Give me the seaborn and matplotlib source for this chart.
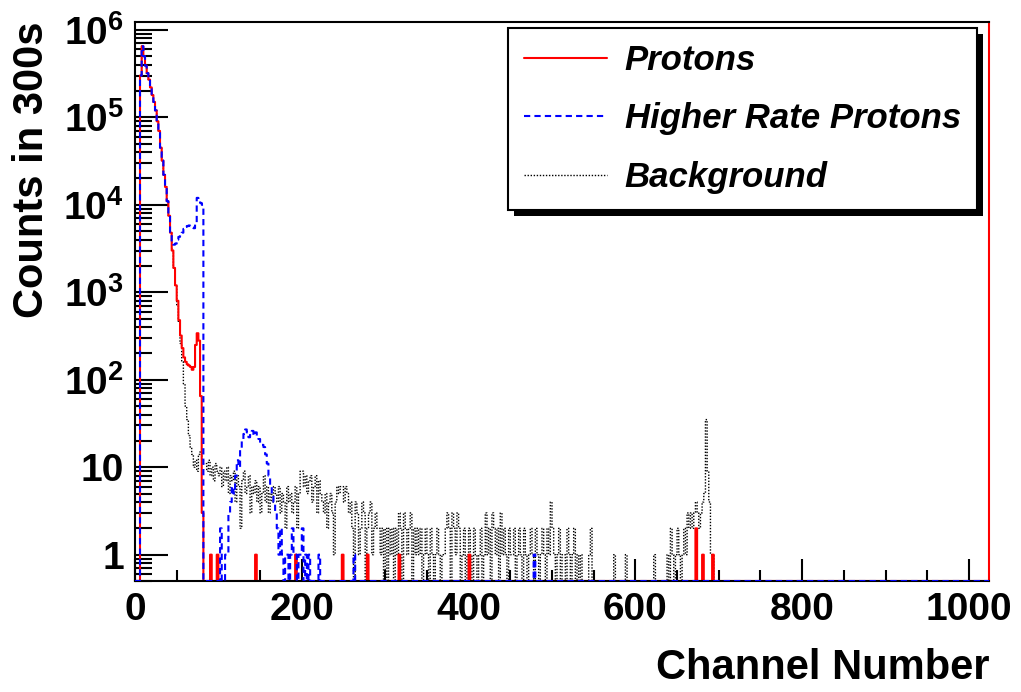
import numpy as np
import pandas as pd
import matplotlib
matplotlib.use("Agg")
import matplotlib.pyplot as plt
import matplotlib.ticker as mticker
from matplotlib.patches import Rectangle
from matplotlib.transforms import IdentityTransform
import seaborn as sns

# spectrum: 1024 channels, drawn in 2-channel bins
n_channels = 1024
bin_width = 2
y_floor = 0.5

# channels 0-83, one value per 2-channel bin
proton_head = [0, 0, 0, 3.0e5, 6.5e5, 5.0e5, 3.9e5, 3.2e5, 2.7e5, 2.2e5,
               1.8e5, 1.5e5, 1.2e5, 9.0e4, 7.0e4, 4.5e4, 3.2e4, 2.2e4, 1.6e4, 1.1e4,
               7.5e3, 4.8e3, 3.0e3, 1.9e3, 1.2e3, 800, 480, 320, 230, 180,
               160, 150, 145, 140, 130, 140, 250, 340, 280, 65, 3, 0]
higher_head = [0, 0, 0, 3.0e5, 6.5e5, 5.0e5, 3.9e5, 3.2e5, 2.7e5, 2.2e5,
               1.8e5, 1.5e5, 1.2e5, 9.0e4, 7.0e4, 4.5e4, 3.2e4, 2.2e4, 1.6e4, 1.1e4,
               7.5e3, 4.8e3, 3.8e3, 3.5e3, 3.6e3, 4.0e3, 4.3e3, 4.5e3, 4.8e3, 5.3e3,
               5.6e3, 5.7e3, 5.8e3, 5.7e3, 5.5e3, 5.4e3, 6.0e3, 1.2e4, 1.1e4, 1.05e4, 1.0e4, 0]
background_head = [0, 0, 0, 3.0e5, 6.5e5, 5.0e5, 3.9e5, 3.2e5, 2.7e5, 2.2e5,
                   1.8e5, 1.5e5, 1.2e5, 9.0e4, 7.0e4, 4.5e4, 3.2e4, 2.2e4, 1.6e4, 1.1e4,
                   7.5e3, 4.8e3, 3.0e3, 1.9e3, 1.2e3, 700, 450, 260, 160, 90,
                   50, 35, 23, 17, 14, 10, 12, 9, 14, 15, 12, 11]

# background, channels 84-719 (2-channel bins)
background_84_200 = [11, 9, 12, 8, 10, 7, 11, 9,
                     8, 10, 6, 9, 7, 10, 5, 8,
                     7, 9, 4, 8, 6, 2, 7, 9, 5, 6,
                     8, 3, 6, 5, 7, 4, 6, 3, 5, 8, 4, 6, 3, 5, 4, 6,
                     5, 4, 6, 3, 5, 4, 2, 6, 4, 5, 3, 4, 6, 2, 5, 9]
background_200_300 = [9, 6, 8, 5,
                      7, 8, 4, 6, 8, 3, 7, 5,
                      4, 3, 5, 2, 4, 5, 3, 1, 4,
                      6, 5, 6, 6, 4, 6, 5,
                      3, 4, 2, 0, 4, 3, 1, 2, 4, 3, 0, 2, 3, 4, 1, 2, 3, 2,
                      2, 1, 2, 0]
background_300_400 = [2, 0, 2, 1, 2, 0, 2, 1,
                      3, 2, 0, 3, 2, 1, 2, 3, 0, 2, 1, 2,
                      1, 2, 0, 1, 2, 1, 0, 2, 1, 0, 1, 2, 1, 0, 1, 1,
                      2, 3, 2, 0, 3, 2, 1, 3, 2, 0,
                      1, 2, 0, 1]
background_400_500 = [2, 1, 0, 2, 1, 0, 1, 2, 0, 1,
                      3, 1, 2, 0, 3, 2, 1, 2, 0, 3, 1, 2, 1, 0, 2, 1,
                      1, 2, 0, 1, 2, 1, 0, 2, 1, 0, 1, 2,
                      1, 0, 2, 1, 0, 1, 2, 1, 0, 2, 1, 4]
background_500_600 = [2, 1, 0, 1, 2, 0, 1, 1, 0, 2, 1, 0, 1, 2, 0, 1, 0, 1,
                      0, 0, 0, 0, 1, 2, 0, 0, 0, 0, 0, 0, 0, 0, 0, 0,
                      0, 0, 0, 1, 0, 0, 0, 0, 0, 0, 1, 0, 0, 0]
background_600_720 = [0, 0, 0, 0, 0, 0, 0, 0, 0, 0, 0, 0, 0, 1, 0, 0, 0, 0, 0, 0,
                      0, 1, 0, 2, 1, 0, 1, 2, 1, 0, 1, 2, 1,
                      3, 2, 3, 2, 3, 4, 3, 2, 3, 4,
                      5, 35, 9, 4, 1,
                      1, 0, 0, 0, 0, 0, 0, 0, 0, 0, 0, 0]

# isolated non-empty channels
proton_tail_channels = [90, 98, 144, 192, 248, 278, 316, 400, 672, 680, 692]
proton_tail_counts = [1, 1, 1, 1, 1, 1, 1, 1, 2, 1, 1]
higher_tail_channels = [102, 108, 110, 112, 114, 116, 118, 120, 122, 124,
                        126, 128, 130, 132, 134, 136, 138, 140, 142, 144,
                        146, 148, 150, 152, 154, 156, 158, 160, 162, 164,
                        166, 168, 170, 172, 174, 176, 180, 182, 186, 188,
                        190, 192, 196, 198, 200, 204, 208, 220, 262, 478]
higher_tail_counts = [2, 1, 1, 3, 4, 6, 5, 8, 12, 10,
                      16, 21, 24, 27, 25, 22, 24, 26, 23, 25,
                      22, 21, 19, 18, 17, 14, 11, 8, 6, 5,
                      4, 3, 2, 1, 2, 1, 1, 1, 1, 2,
                      1, 1, 1, 1, 2, 1, 1, 1, 1, 1]


def build_counts(head, segments=(), tail_channels=(), tail_counts=()):
    counts = np.zeros(n_channels // bin_width)
    counts[:len(head)] = head
    start = len(head)
    for seg in segments:
        counts[start:start + len(seg)] = seg
        start += len(seg)
    for ch, c in zip(tail_channels, tail_counts):
        counts[ch // bin_width] = c
    return counts


def step_frame(counts):
    edges = np.arange(0, n_channels + 1, bin_width)
    y = np.maximum(np.append(counts, counts[-1]), y_floor)
    return pd.DataFrame({"channel": edges, "counts": y})


protons = build_counts(proton_head, tail_channels=proton_tail_channels,
                       tail_counts=proton_tail_counts)
higher = build_counts(higher_head, tail_channels=higher_tail_channels,
                      tail_counts=higher_tail_counts)
background = build_counts(background_head,
                          segments=[background_84_200, background_200_300,
                                    background_300_400, background_400_500,
                                    background_500_600, background_600_720])

sns.set_style("white")
plt.rcParams["font.family"] = ["Liberation Sans", "DejaVu Sans"]
plt.rcParams["font.weight"] = "bold"
plt.rcParams["text.color"] = "black"
plt.rcParams["axes.labelcolor"] = "black"
plt.rcParams["xtick.color"] = "black"
plt.rcParams["ytick.color"] = "black"
plt.rcParams["mathtext.fontset"] = "custom"
plt.rcParams["mathtext.default"] = "bf"
plt.rcParams["mathtext.bf"] = "Liberation Sans:bold"
plt.rcParams["mathtext.rm"] = "Liberation Sans:bold"

fig = plt.figure(figsize=(10.21, 6.92), dpi=100)
ax = fig.add_axes([135 / 1021, 111 / 692, 854 / 1021, 559 / 692])

sns.lineplot(data=step_frame(background), x="channel", y="counts", drawstyle="steps-post",
             color="black", linewidth=1.0, linestyle=(0, (1, 1.2)), ax=ax)
sns.lineplot(data=step_frame(protons), x="channel", y="counts", drawstyle="steps-post",
             color="#ff0000", linewidth=1.5, ax=ax)
sns.lineplot(data=step_frame(higher), x="channel", y="counts", drawstyle="steps-post",
             color="#0000ff", linewidth=1.5, linestyle=(0, (3, 2)), ax=ax, zorder=2.6)

ax.set_yscale("log")
ax.set_xlim(0, 1024)
ax.set_ylim(y_floor, 1.23e6)

ax.xaxis.set_major_locator(mticker.MultipleLocator(200))
ax.xaxis.set_minor_locator(mticker.MultipleLocator(50))
ax.yaxis.set_major_locator(mticker.LogLocator(base=10, numticks=12))
ax.yaxis.set_minor_locator(mticker.LogLocator(base=10, subs=np.arange(2, 10), numticks=12))
ax.yaxis.set_minor_formatter(mticker.NullFormatter())


def decade_label(v, pos):
    if v < 0.9:
        return ""
    if v < 1.5:
        return "1"
    if v < 15:
        return "10"
    return "10$^{%d}$" % round(np.log10(v))


ax.yaxis.set_major_formatter(mticker.FuncFormatter(decade_label))

ax.tick_params(axis="both", which="both", direction="in", labelsize=28, width=1.5,
               bottom=True, left=True, top=False, right=False)
ax.tick_params(axis="x", which="major", length=16, pad=8)
ax.tick_params(axis="x", which="minor", length=8)
ax.tick_params(axis="y", which="major", length=24, pad=8)
ax.tick_params(axis="y", which="minor", length=12)

for side in ["left", "bottom", "top"]:
    ax.spines[side].set_linewidth(1.5)
    ax.spines[side].set_color("black")
ax.spines["right"].set_linewidth(1.5)
ax.spines["right"].set_color("#ff0000")

ax.set_xlabel("Channel Number", fontsize=30, fontweight="bold", loc="right")
ax.set_ylabel("Counts in 300s", fontsize=30, fontweight="bold", loc="top")
ax.xaxis.set_label_coords(1.0, -0.12)
ax.yaxis.set_label_coords(-0.097, 1.0)

lines = ax.get_lines()
leg = ax.legend(handles=[lines[1], lines[2], lines[0]],
                labels=["Protons", "Higher Rate Protons", "Background"],
                loc="upper right", bbox_to_anchor=(977 / 1021, 1 - 28 / 692),
                bbox_transform=fig.transFigure, borderaxespad=0,
                prop={"family": "Liberation Sans", "weight": "bold", "style": "italic", "size": 25},
                frameon=True, fancybox=False, edgecolor="black", framealpha=1,
                handlelength=2.4, handletextpad=0.5, borderpad=0.46, labelspacing=0.73)
leg.get_frame().set_linewidth(1.5)
leg.set_zorder(5)

fig.canvas.draw()
bb = leg.get_frame().get_window_extent()
shadow = Rectangle((bb.x0 + 6, bb.y0 - 6), bb.width, bb.height, transform=IdentityTransform(),
                   facecolor="black", edgecolor="none", zorder=4.9, clip_on=False)
ax.add_artist(shadow)

fig.savefig("out.png", dpi=100)
